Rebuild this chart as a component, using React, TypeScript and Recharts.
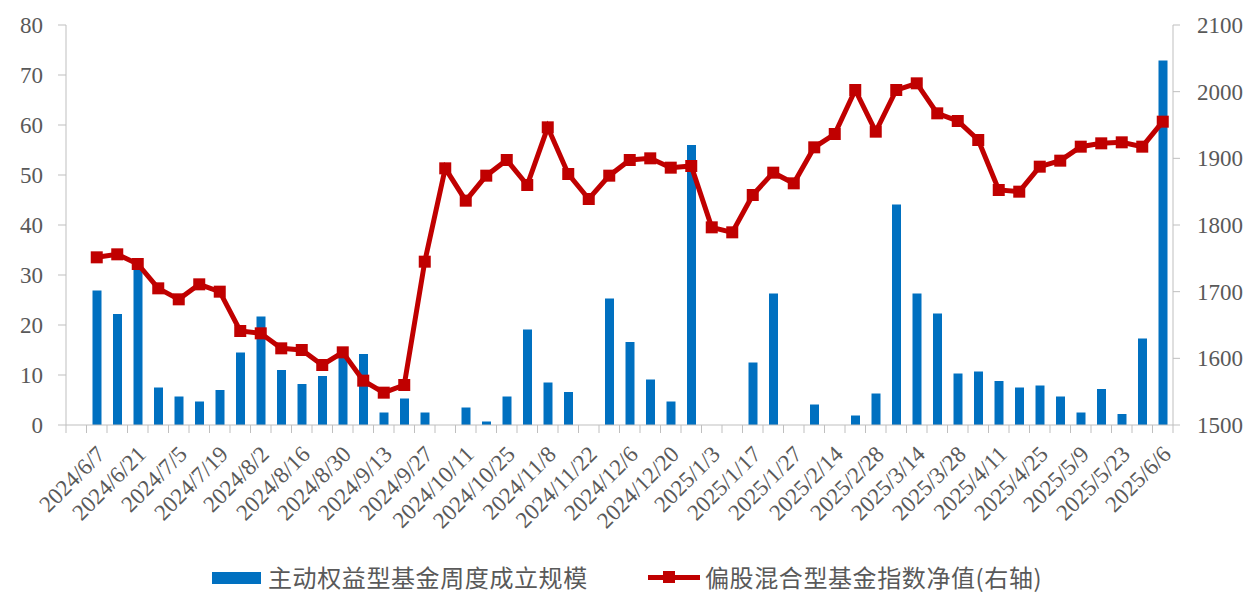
import React from 'react';
import { ComposedChart, Bar, Line, XAxis, YAxis } from 'recharts';

// weekly dates; first slot is empty in the source chart
const dates = [
  '2024/5/31', '2024/6/7', '2024/6/14', '2024/6/21', '2024/6/28', '2024/7/5', '2024/7/12', '2024/7/19',
  '2024/7/26', '2024/8/2', '2024/8/9', '2024/8/16', '2024/8/23', '2024/8/30', '2024/9/6', '2024/9/13',
  '2024/9/20', '2024/9/27', '2024/9/30', '2024/10/11', '2024/10/18', '2024/10/25', '2024/11/1', '2024/11/8',
  '2024/11/15', '2024/11/22', '2024/11/29', '2024/12/6', '2024/12/13', '2024/12/20', '2024/12/27', '2025/1/3',
  '2025/1/10', '2025/1/17', '2025/1/24', '2025/1/27', '2025/2/7', '2025/2/14', '2025/2/21', '2025/2/28',
  '2025/3/7', '2025/3/14', '2025/3/21', '2025/3/28', '2025/4/3', '2025/4/11', '2025/4/18', '2025/4/25',
  '2025/4/30', '2025/5/9', '2025/5/16', '2025/5/23', '2025/5/30', '2025/6/6',
];

// 主动权益型基金周度成立规模 (left axis)
const fundSize = [
  null, 26.9, 22.2, 32.0, 7.5, 5.7, 4.7, 7.0, 14.5, 21.7, 11.0, 8.2, 9.8, 13.5, 14.2, 2.5,
  5.3, 2.5, 0, 3.5, 0.7, 5.7, 19.1, 8.5, 6.6, 0, 25.3, 16.6, 9.1, 4.7, 56.0, 0,
  0, 12.5, 26.3, 0, 4.1, 0, 1.9, 6.3, 44.1, 26.3, 22.3, 10.3, 10.7, 8.8, 7.5, 7.9,
  5.7, 2.5, 7.2, 2.2, 17.3, 72.9,
];

// 偏股混合型基金指数净值 (right axis)
const indexNav = [
  null, 1751.5, 1756, 1741.5, 1705, 1688.5, 1711, 1700, 1641, 1637.5, 1615, 1612.5, 1590, 1609, 1566.5, 1548.5,
  1560, 1745, 1885, 1836.5, 1874, 1897.5, 1860, 1946.5, 1876.5, 1839, 1874, 1897.5, 1900, 1886, 1888.5, 1796.5,
  1789, 1845, 1878.5, 1862.5, 1916.5, 1936.5, 2002.5, 1940, 2002.5, 2012.5, 1967.5, 1956, 1927.5, 1852.5, 1850, 1887.5,
  1896.5, 1917.5, 1922.5, 1924, 1917.5, 1955,
];

const leftTicks = [0, 10, 20, 30, 40, 50, 60, 70, 80];
const rightTicks = [1500, 1600, 1700, 1800, 1900, 2000, 2100];

const barName = '主动权益型基金周度成立规模';
const lineName = '偏股混合型基金指数净值(右轴)';

const data = dates.map((date, i) => ({ date, size: fundSize[i], nav: indexNav[i] }));

const GREY = '#595959';
const AXIS = '#bfbfbf';
const BLUE = '#0070C0';
const RED = '#C00000';
const SERIF = '"Liberation Serif", "Times New Roman", serif';
const CJK = '"Noto Sans CJK SC", sans-serif';

function DateTick(props: any) {
  const { x, y, payload, index } = props;
  const half = payload && payload.offset ? payload.offset : 10.25;
  const last = index === dates.length - 1;
  const tx = x + 4;
  const ty = y + 25;
  return (
    <g>
      <line x1={x - half} x2={x - half} y1={y} y2={y + 8} stroke={AXIS} />
      {last && <line x1={x + half} x2={x + half} y1={y} y2={y + 8} stroke={AXIS} />}
      {index % 2 === 1 && (
        <text
          x={tx}
          y={ty}
          dy="0.35em"
          textAnchor="end"
          transform={`rotate(-45, ${tx}, ${ty})`}
          fill={GREY}
          fontSize={23}
          fontFamily={SERIF}
        >
          {payload.value}
        </text>
      )}
    </g>
  );
}

function SquareDot(props: any) {
  const { cx, cy, value } = props;
  if (cx == null || cy == null || value == null) return <g />;
  return <rect x={cx - 6} y={cy - 6} width={12} height={12} fill={RED} />;
}

export default function App() {
  const tickStyle = { fill: GREY, fontSize: 23, fontFamily: SERIF };
  return (
    <div style={{ position: 'absolute', left: 0, top: 0, width: 1260, height: 597, background: '#fff' }}>
      <ComposedChart width={1260} height={597} data={data} margin={{ top: 25, right: 0, bottom: 0, left: 0 }}>
        <XAxis
          dataKey="date"
          interval={0}
          height={172}
          tickSize={0}
          tickMargin={0}
          tickLine={false}
          axisLine={{ stroke: AXIS }}
          tick={<DateTick />}
        />
        <YAxis
          yAxisId="left"
          orientation="left"
          width={66}
          domain={[0, 80]}
          ticks={leftTicks}
          interval={0}
          tickSize={8}
          tickMargin={15}
          tick={tickStyle}
          axisLine={{ stroke: AXIS }}
          tickLine={{ stroke: AXIS }}
        />
        <YAxis
          yAxisId="right"
          orientation="right"
          width={87}
          domain={[1500, 2100]}
          ticks={rightTicks}
          interval={0}
          tickSize={7}
          tickMargin={17}
          tick={{ ...tickStyle, textAnchor: 'start' }}
          axisLine={{ stroke: AXIS }}
          tickLine={{ stroke: AXIS }}
        />
        <Bar yAxisId="left" dataKey="size" name={barName} fill={BLUE} barSize={9} isAnimationActive={false} />
        <Line
          yAxisId="right"
          dataKey="nav"
          name={lineName}
          type="linear"
          stroke={RED}
          strokeWidth={5}
          dot={<SquareDot />}
          activeDot={false}
          isAnimationActive={false}
        />
      </ComposedChart>

      <div style={{ position: 'absolute', left: 212, top: 572, width: 49, height: 12, background: BLUE }} />
      <div
        style={{
          position: 'absolute', left: 268, top: 562, lineHeight: '30px', fontSize: 24,
          letterSpacing: '0.6px', fontFamily: CJK, color: GREY, whiteSpace: 'nowrap',
        }}
      >
        {barName}
      </div>
      <div style={{ position: 'absolute', left: 648, top: 575, width: 52, height: 5, background: RED }} />
      <div style={{ position: 'absolute', left: 663, top: 571, width: 12, height: 12, background: RED }} />
      <div
        style={{
          position: 'absolute', left: 705, top: 562, lineHeight: '30px', fontSize: 24,
          letterSpacing: '0.6px', fontFamily: CJK, color: GREY, whiteSpace: 'nowrap',
        }}
      >
        {lineName}
      </div>
    </div>
  );
}
